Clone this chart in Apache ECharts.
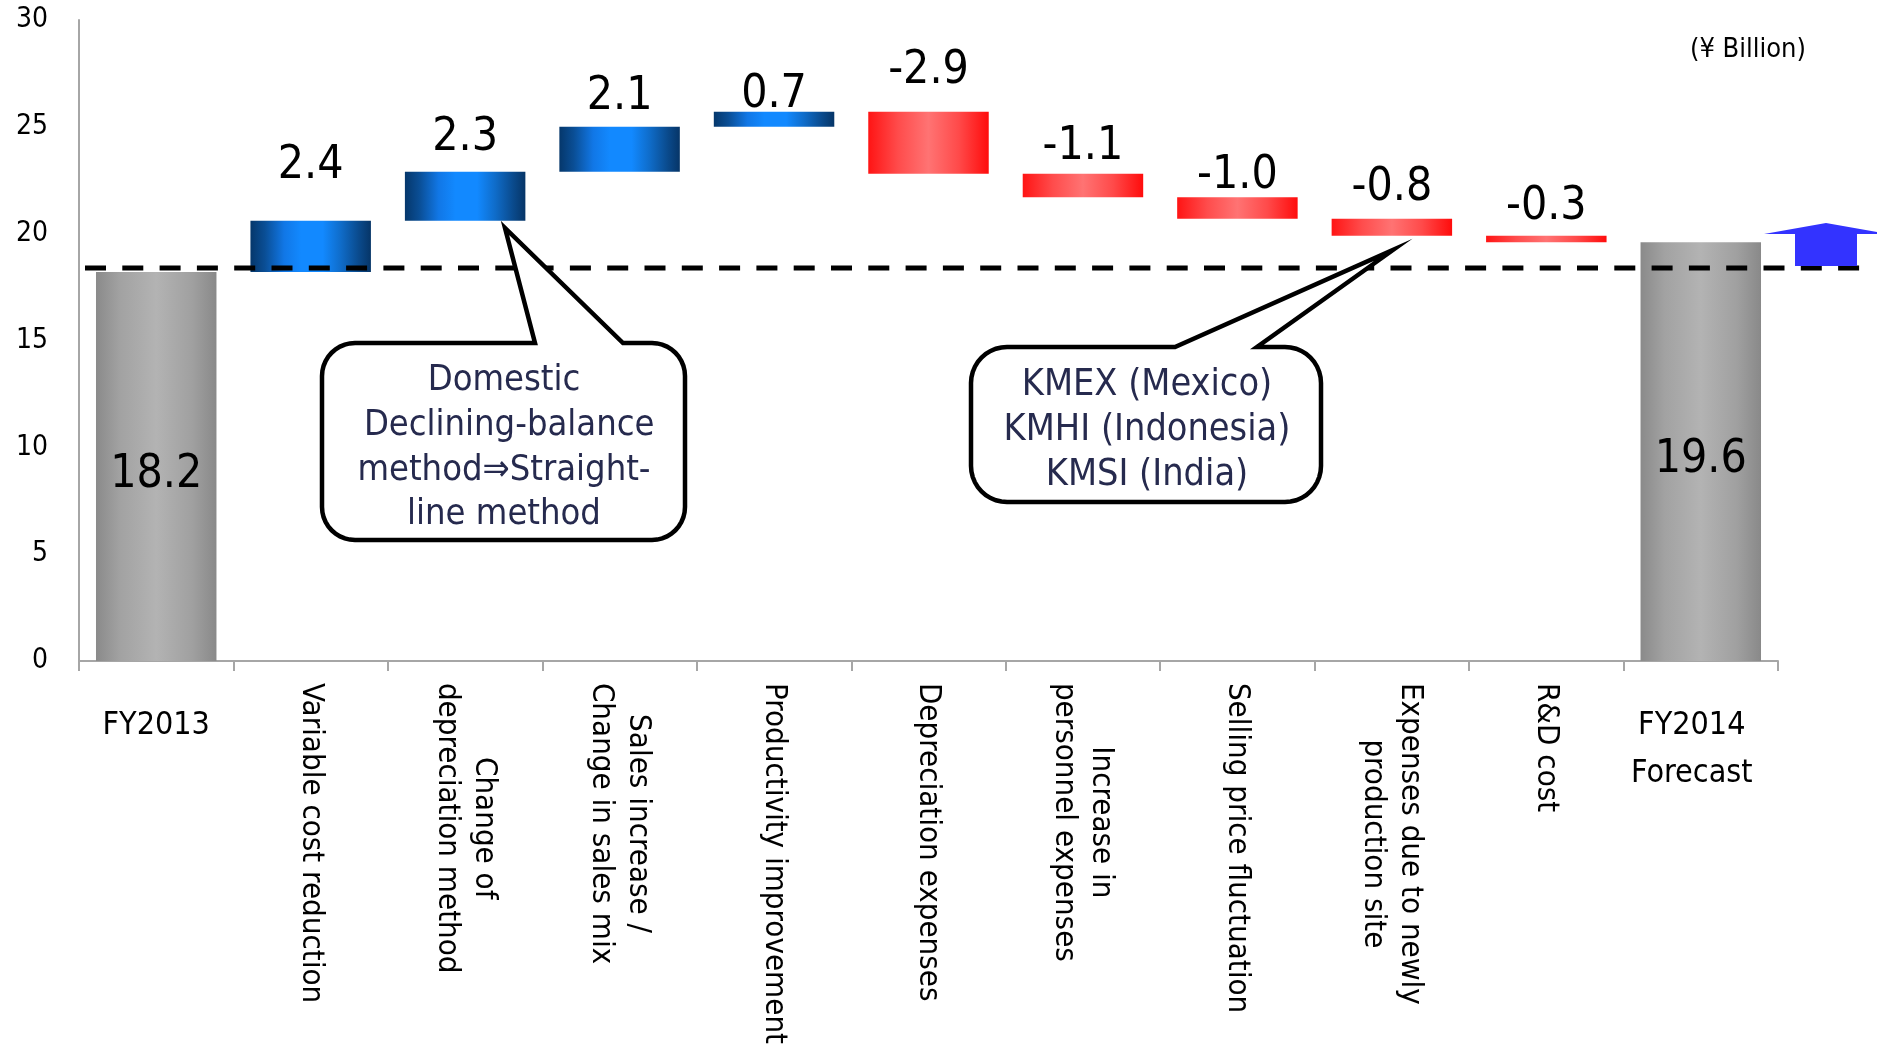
<!DOCTYPE html>
<html>
<head>
<meta charset="utf-8">
<script src="https://cdn.jsdelivr.net/npm/echarts@6/dist/echarts.min.js"></script>
<style>
  html, body { margin: 0; padding: 0; background: #ffffff; }
  #chart { width: 1877px; height: 1047px; }
</style>
</head>
<body>
<div id="chart"></div>
<script>
// Operating income bridge, FY2013 -> FY2014 forecast (¥ Billion)
const categories = [
  'FY2013',
  'Variable cost reduction',
  'Change of\ndepreciation method',
  'Sales increase /\nChange in sales mix',
  'Productivity improvement',
  'Depreciation expenses',
  'Increase in\npersonnel expenses',
  'Selling price fluctuation',
  'Expenses due to newly\nproduction site',
  'R&D cost',
  'FY2014\nForecast'
];
const startValue = 18.2;
const deltas = [2.4, 2.3, 2.1, 0.7, -2.9, -1.1, -1.0, -0.8, -0.3];
const endValue = 19.6;
const yTicks = [0, 5, 10, 15, 20, 25, 30];

// distance (px) between each change label and the top of its bar
const labelDistance = [32, 11, 7, -6, 18, 4, -2, 8, 6];

const FONT = "'DejaVu Sans Condensed', 'DejaVu Sans', sans-serif";
const AXIS_GREY = '#a6a6a6';
const TEXT_NAVY = '#262a4e';

const lg = (stops) => new echarts.graphic.LinearGradient(0, 0, 1, 0,
  stops.map(([offset, color]) => ({ offset, color })));
const greyFill = () => lg([[0, '#8a8a8a'], [0.2, '#a2a2a2'], [0.5, '#b3b3b3'], [0.8, '#a0a0a0'], [1, '#898989']]);
const blueFill = () => lg([[0, '#05376b'], [0.12, '#0a4e95'], [0.28, '#1177e6'], [0.42, '#1289ff'],
                           [0.6, '#1289ff'], [0.75, '#0f6cc9'], [0.9, '#0a4a8c'], [1, '#063567']]);
const redFill = () => lg([[0, '#ff1414'], [0.25, '#ff4c4c'], [0.5, '#ff7373'], [0.75, '#ff4a4a'], [1, '#ff0c0c']]);

// waterfall: invisible base + visible step
const baseData = [0];
const stepData = [];
let running = startValue;
stepData.push({
  value: startValue,
  itemStyle: { color: greyFill() },
  label: { show: true, position: 'inside', offset: [0, 9], formatter: startValue.toFixed(1) }
});
deltas.forEach((d, i) => {
  const next = Math.round((running + d) * 10) / 10;
  baseData.push(Math.min(running, next));
  stepData.push({
    value: Math.abs(d),
    itemStyle: { color: d >= 0 ? blueFill() : redFill() },
    label: { show: true, position: 'top', distance: labelDistance[i], formatter: d.toFixed(1) }
  });
  running = next;
});
baseData.push(0);
stepData.push({
  value: endValue,
  itemStyle: { color: greyFill() },
  label: { show: true, position: 'inside', offset: [0, 9], formatter: endValue.toFixed(1) }
});

const lastIdx = categories.length - 1;
const isTotal = (i) => i === 0 || i === lastIdx;

const chart = echarts.init(document.getElementById('chart'), null, { renderer: 'canvas' });

chart.setOption({
  backgroundColor: '#ffffff',
  animation: false,
  grid: { left: 79, right: 99, top: 20, bottom: 383, containLabel: false },
  xAxis: [
    {
      type: 'category',
      data: categories,
      position: 'bottom',
      boundaryGap: true,
      axisLine: { show: true, lineStyle: { color: AXIS_GREY, width: 2 } },
      axisTick: { show: true, length: 10, lineStyle: { color: AXIS_GREY, width: 2 } },
      axisLabel: {
        interval: 0,
        rotate: -90,
        margin: 22,
        hideOverlap: false,
        formatter: (v, i) => isTotal(i) ? '' : v.split('\n').map(s => '{c|' + s + '}').join('\n'),
        rich: { c: { align: 'center', fontSize: 31, fontFamily: FONT, color: '#000', lineHeight: 37 } }
      }
    },
    {
      type: 'category',
      data: categories,
      position: 'bottom',
      offset: 0,
      boundaryGap: true,
      axisLine: { show: false },
      axisTick: { show: false },
      axisLabel: {
        interval: 0,
        rotate: 0,
        margin: 41,
        hideOverlap: false,
        fontSize: 32,
        lineHeight: 48,
        fontFamily: FONT,
        color: '#000',
        formatter: (v, i) => {
          if (i === 0) return v;
          if (i === lastIdx) return v.split('\n').map(s => '{f|' + s + '}').join('\n');
          return '';
        },
        rich: { f: { fontSize: 32, lineHeight: 48, fontFamily: FONT, color: '#000', padding: [0, 18, 0, 0] } }
      }
    }
  ],
  yAxis: {
    type: 'value',
    min: yTicks[0],
    max: yTicks[yTicks.length - 1],
    interval: yTicks[1] - yTicks[0],
    axisLine: { show: true, lineStyle: { color: AXIS_GREY, width: 2 } },
    axisTick: { show: false },
    splitLine: { show: false },
    axisLabel: { fontSize: 28, fontFamily: FONT, color: '#000', margin: 31, padding: [12, 0, 0, 0] }
  },
  series: [
    {
      name: 'base',
      type: 'bar',
      stack: 'bridge',
      xAxisIndex: 0,
      barCategoryGap: '22%',
      silent: true,
      itemStyle: { color: 'rgba(0,0,0,0)' },
      data: baseData
    },
    {
      name: 'step',
      type: 'bar',
      stack: 'bridge',
      xAxisIndex: 0,
      barCategoryGap: '22%',
      label: { fontSize: 46, fontFamily: FONT, color: '#000' },
      data: stepData
    }
  ]
});

// FY2013 reference level, callouts and the upward arrow
const levelY = chart.convertToPixel({ yAxisIndex: 0 }, startValue) - 4;

// rounded speech-bubble outline as a point list
function calloutPoints(L, T, R, B, r, baseL, baseR, tipX, tipY) {
  const pts = [];
  const arc = (cx, cy, a0, a1) => {
    const n = 10;
    for (let k = 0; k <= n; k++) {
      const a = a0 + (a1 - a0) * k / n;
      pts.push([cx + r * Math.cos(a), cy + r * Math.sin(a)]);
    }
  };
  arc(L + r, T + r, Math.PI, Math.PI * 1.5);
  pts.push([baseL, T], [tipX, tipY], [baseR, T]);
  arc(R - r, T + r, Math.PI * 1.5, Math.PI * 2);
  arc(R - r, B - r, 0, Math.PI * 0.5);
  arc(L + r, B - r, Math.PI * 0.5, Math.PI);
  return pts;
}

chart.setOption({
  graphic: [
    {
      type: 'line', z: 50,
      shape: { x1: 85, y1: levelY, x2: 1861, y2: levelY },
      style: { stroke: '#000', lineWidth: 5, lineDash: [21, 16.3] }
    },
    {
      type: 'polygon', z: 50,
      shape: { points: [[1795, 266], [1795, 234], [1764, 234], [1826, 223], [1888, 234], [1857, 234], [1857, 266]] },
      style: { fill: '#3333ff' }
    },
    {
      type: 'text', z: 50,
      style: { text: '(¥ Billion)', x: 1806, y: 50, align: 'right', verticalAlign: 'middle',
               fontSize: 27, fontFamily: FONT, fill: '#000' }
    },
    {
      type: 'polygon', z: 60,
      shape: { points: calloutPoints(322, 343, 685, 540, 33, 535, 623, 505, 228) },
      style: { fill: '#fff', stroke: '#000', lineWidth: 4.5, lineJoin: 'miter', miterLimit: 10 }
    },
    {
      type: 'text', z: 61,
      style: { text: 'Domestic\n Declining-balance\nmethod⇒Straight-\nline method', x: 504, y: 448,
               align: 'center', verticalAlign: 'middle', lineHeight: 44.7,
               fontSize: 36, fontFamily: FONT, fill: TEXT_NAVY }
    },
    {
      type: 'polygon', z: 60,
      shape: { points: calloutPoints(971, 347, 1321, 502, 36, 1175, 1257, 1393, 250) },
      style: { fill: '#fff', stroke: '#000', lineWidth: 4.5, lineJoin: 'miter', miterLimit: 10 }
    },
    {
      type: 'text', z: 61,
      style: { text: 'KMEX (Mexico)\nKMHI (Indonesia)\nKMSI (India)', x: 1147, y: 430,
               align: 'center', verticalAlign: 'middle', lineHeight: 45,
               fontSize: 37.5, fontFamily: FONT, fill: TEXT_NAVY }
    }
  ]
});
</script>
</body>
</html>
